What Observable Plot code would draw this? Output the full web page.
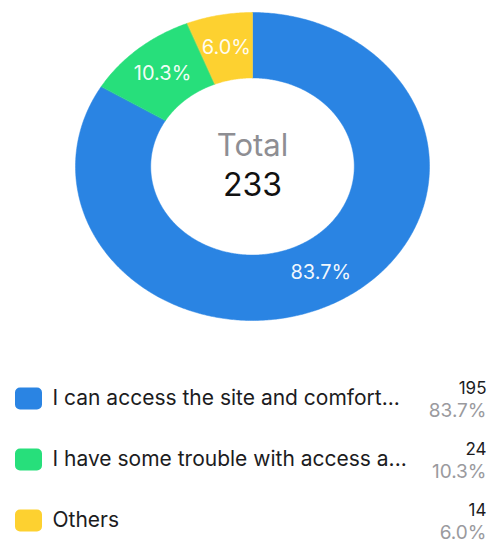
<!DOCTYPE html>
<html>
<head>
<meta charset="utf-8">
<script src="https://cdn.jsdelivr.net/npm/d3@7"></script>
<script src="https://cdn.jsdelivr.net/npm/@observablehq/plot@0.6"></script>
<style>
  html, body { margin: 0; padding: 0; background: #fff; }
  #chart svg { display: block; }
</style>
</head>
<body>
<div id="chart"></div>
<script>
const categories = [
  "I can access the site and comfort...",
  "I have some trouble with access a...",
  "Others"
];
const values = [195, 24, 14];
const colors = ["#2A84E3", "#27DF7B", "#FDD130"];
const centerTitle = "Total";

const total = d3.sum(values);
const pct = values.map(v => (v / total * 100).toFixed(1) + "%");

const R_OUT = 1, R_IN = 0.575;
// angles clockwise from 12 o'clock
const pie = [];
let acc = 0;
values.forEach((v, i) => {
  const a0 = acc / total * 2 * Math.PI;
  acc += v;
  const a1 = acc / total * 2 * Math.PI;
  pie.push({cat: categories[i], a0, a1, i});
});
const pts = [];
for (const s of pie) {
  const n = Math.max(4, Math.ceil((s.a1 - s.a0) / 0.01));
  for (let k = 0; k <= n; k++) {
    const a = s.a0 + (s.a1 - s.a0) * k / n;
    pts.push({cat: s.cat, x: R_OUT * Math.sin(a), y: R_OUT * Math.cos(a)});
  }
  for (let k = n; k >= 0; k--) {
    const a = s.a0 + (s.a1 - s.a0) * k / n;
    pts.push({cat: s.cat, x: R_IN * Math.sin(a), y: R_IN * Math.cos(a)});
  }
}
const labels = pie.map((s, i) => {
  const a = (s.a0 + s.a1) / 2, r = (R_OUT + R_IN) / 2;
  return {x: r * Math.sin(a), y: r * Math.cos(a), t: pct[i]};
});

const font = "Inter, 'Helvetica Neue', Arial, sans-serif";

const donut = Plot.plot({
  width: 490, height: 340,
  marginTop: 0, marginBottom: 0, marginLeft: 0, marginRight: 0,
  x: {domain: [-252/177, 238/177], axis: null},
  y: {domain: [-174/154, 166/154], axis: null},
  color: {domain: categories, range: colors},
  style: {fontFamily: font, background: "#fff"},
  marks: [
    Plot.line(pts, {x: "x", y: "y", z: "cat", fill: "cat", stroke: "cat", strokeWidth: 0.5, curve: "linear-closed"}),
    Plot.text(labels, {x: "x", y: "y", text: "t", fill: "white", fontSize: 20, fillOpacity: 0.95}),
    Plot.text([centerTitle], {x: 0, y: 0, text: d => d, dy: -20, fontSize: 31, fill: "#8e8e93"}),
    Plot.text([String(total)], {x: 0, y: 0, text: d => d, dy: 19, fontSize: 32, fill: "#111"})
  ]
});

const rows = categories.map((c, i) => ({cat: c, v: values[i], p: pct[i]}));
const roundRect = {
  draw(ctx, size) {
    const w = 27, h = 22, r = 5, x = -w/2, y = -h/2;
    ctx.moveTo(x + r, y);
    ctx.arcTo(x + w, y, x + w, y + h, r);
    ctx.arcTo(x + w, y + h, x, y + h, r);
    ctx.arcTo(x, y + h, x, y, r);
    ctx.arcTo(x, y, x + w, y, r);
    ctx.closePath();
  }
};
const legend = Plot.plot({
  width: 490, height: 204,
  marginTop: 57, marginBottom: 24, marginLeft: 0, marginRight: 0,
  x: {type: "identity", axis: null},
  y: {type: "point", domain: categories, padding: 0, axis: null},
  color: {domain: categories, range: colors},
  style: {fontFamily: font, background: "#fff"},
  marks: [
    Plot.dot(rows, {x: 28, y: "cat", fill: "cat", symbol: roundRect, r: 10}),
    Plot.text(rows, {x: 52, y: "cat", text: "cat", textAnchor: "start", fontSize: 21, fill: "#1c1c1e"}),
    Plot.text(rows, {x: 486, y: "cat", text: d => String(d.v), textAnchor: "end", dy: -10, fontSize: 17, fill: "#1c1c1e"}),
    Plot.text(rows, {x: 486, y: "cat", text: "p", textAnchor: "end", dy: 12, fontSize: 19, fill: "#9a9a9e"})
  ]
});

const el = document.getElementById("chart");
el.append(donut, legend);
</script>
</body>
</html>
